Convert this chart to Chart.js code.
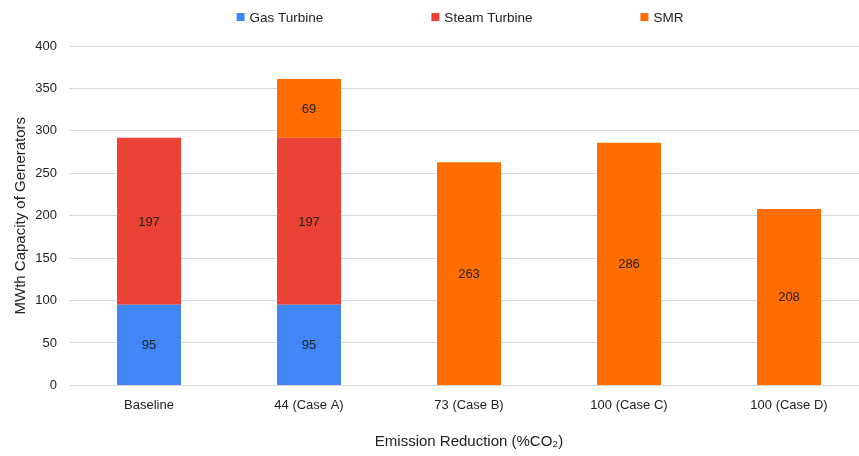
<!DOCTYPE html>
<html>
<head>
<meta charset="utf-8">
<script src="https://cdn.jsdelivr.net/npm/chart.js@4/dist/chart.umd.min.js"></script>
<style>
  html, body { margin: 0; padding: 0; background: #fff; overflow: hidden; }
  #wrap { width: 869px; height: 456px; position: relative; }
</style>
</head>
<body>
<div id="wrap"><canvas id="c"></canvas></div>
<script>
// Generator capacity (MWth) by emission-reduction case
const categories = ['Baseline', '44 (Case A)', '73 (Case B)', '100 (Case C)', '100 (Case D)'];
const gasTurbine = [95, 95, null, null, null];
const steamTurbine = [197, 197, null, null, null];
const smr = [null, 69, 263, 286, 208];
const yTicks = [0, 50, 100, 150, 200, 250, 300, 350, 400];

const FONT = "'Liberation Sans', Arial, sans-serif";
const TEXT = '#222';
const VISIBLE_W = 859;

// Writes each segment's value in the middle of its bar
const barValueLabels = {
  id: 'barValueLabels',
  afterDatasetsDraw(chart) {
    const ctx = chart.ctx;
    ctx.save();
    ctx.font = '13px ' + FONT;
    ctx.fillStyle = TEXT;
    ctx.textAlign = 'center';
    ctx.textBaseline = 'middle';
    chart.data.datasets.forEach((ds, di) => {
      const meta = chart.getDatasetMeta(di);
      meta.data.forEach((bar, i) => {
        const v = ds.data[i];
        if (v === null || v === undefined) return;
        const { x, y, base } = bar.getProps(['x', 'y', 'base'], true);
        ctx.fillText(String(v), x, (y + base) / 2 + 1);
      });
    });
    ctx.restore();
  }
};

// Single-row legend with wide gaps between entries
const wideLegend = {
  id: 'wideLegend',
  afterDraw(chart) {
    const ctx = chart.ctx;
    const box = 8, gapText = 5, gapItem = 108, y = 17;
    ctx.save();
    ctx.font = '13.5px ' + FONT;
    ctx.textBaseline = 'middle';
    const items = chart.data.datasets.map(ds => ({
      label: ds.label, color: ds.backgroundColor,
      w: box + gapText + ctx.measureText(ds.label).width
    }));
    const total = items.reduce((s, it) => s + it.w, 0) + gapItem * (items.length - 1);
    const center = (chart.chartArea.left + VISIBLE_W) / 2 - 4;
    let x = center - total / 2;
    items.forEach(it => {
      ctx.fillStyle = it.color;
      ctx.fillRect(x, y - box / 2, box, box);
      ctx.fillStyle = TEXT;
      ctx.fillText(it.label, x + box + gapText, y + 1);
      x += it.w + gapItem;
    });
    ctx.restore();
  }
};

new Chart(document.getElementById('c'), {
  type: 'bar',
  data: {
    labels: categories,
    datasets: [
      { label: 'Gas Turbine', data: gasTurbine, backgroundColor: '#4285F4' },
      { label: 'Steam Turbine', data: steamTurbine, backgroundColor: '#EA4335' },
      { label: 'SMR', data: smr, backgroundColor: '#FF6D01' }
    ]
  },
  options: {
    responsive: true,
    maintainAspectRatio: false,
    animation: false,
    layout: { padding: { left: 0, right: 0, top: 46, bottom: 5 } },
    datasets: { bar: { barPercentage: 0.8, categoryPercentage: 0.5, skipNull: false } },
    plugins: {
      tooltip: { enabled: false },
      legend: { display: false }
    },
    scales: {
      x: {
        stacked: true,
        grid: { display: false, drawTicks: false },
        border: { display: false },
        ticks: { font: { family: FONT, size: 13 }, color: TEXT, padding: 12, autoSkip: false, maxRotation: 0 },
        title: {
          display: true,
          text: 'Emission Reduction (%CO\u2082)',
          font: { family: FONT, size: 15 },
          color: TEXT,
          padding: { top: 8, bottom: 0 }
        }
      },
      y: {
        stacked: true,
        min: 0,
        max: 400,
        afterBuildTicks(scale) { scale.ticks = yTicks.map(v => ({ value: v })); },
        afterFit(scale) { scale.width = 69; },
        grid: { color: '#d9d9d9', drawTicks: false },
        border: { display: false },
        ticks: { font: { family: FONT, size: 13 }, color: TEXT, padding: 12 },
        title: {
          display: true,
          text: 'MWth Capacity of Generators',
          font: { family: FONT, size: 15 },
          color: TEXT,
          padding: { top: 12, bottom: 4 }
        }
      }
    }
  },
  plugins: [barValueLabels, wideLegend]
});
</script>
</body>
</html>
